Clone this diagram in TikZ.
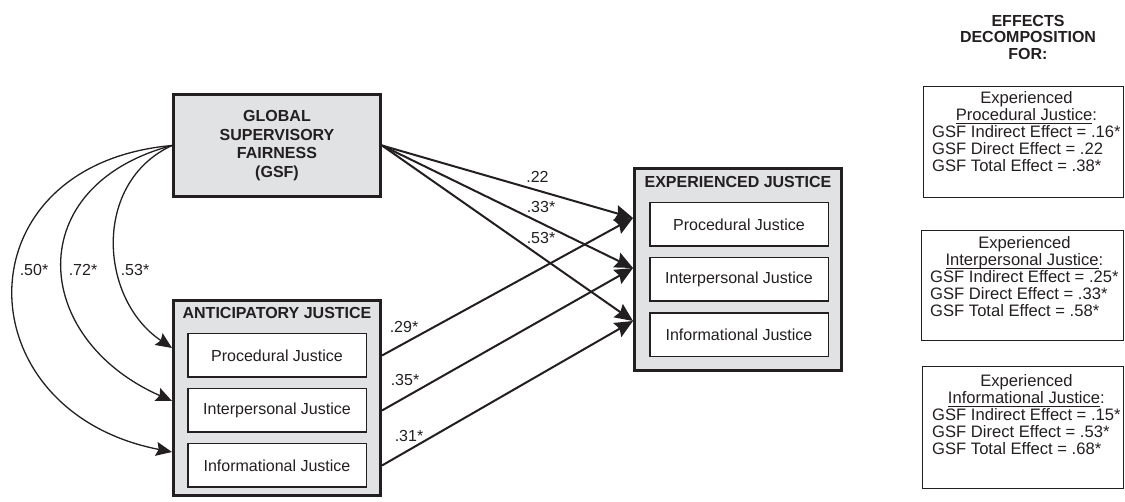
\documentclass[tikz,border=0pt]{standalone}
\usepackage{fontspec}
\setmainfont{Liberation Sans}
\usetikzlibrary{arrows.meta}
\definecolor{boxgray}{RGB}{225,226,228}
\definecolor{ink}{RGB}{35,31,32}
\newsavebox{\ulbox}
\newcommand{\myuline}[1]{\sbox{\ulbox}{#1}\rlap{\rule[-2.6pt]{\wd\ulbox}{0.9pt}}\usebox{\ulbox}}
\begin{document}
\begin{tikzpicture}[x=1pt,y=-1pt,
  outerbox/.style={draw=ink, line width=3pt, fill=boxgray, minimum width=207pt, inner sep=0pt},
  innerbox/.style={draw=ink, line width=1.5pt, fill=white, minimum width=178.5pt, minimum height=43.5pt, inner sep=0pt, text=ink, font=\fontsize{16}{18}\selectfont},
  boxtitle/.style={font=\fontsize{16}{18}\selectfont\bfseries, inner sep=0pt, text=ink},
  coef/.style={font=\fontsize{16}{18}\selectfont, inner sep=0pt, text=ink},
  patharrow/.style={draw=ink, line width=2pt, -{Stealth[length=18pt,width=16pt,inset=2.5pt]}},
  corrarrow/.style={draw=ink, line width=1.3pt, -{Stealth[length=16pt,width=14pt,inset=2.5pt]}},
  effbox/.style={draw=ink, line width=1.3pt, inner sep=0pt},
  efftext/.style={font=\fontsize{16.6}{16.4}\selectfont, inner sep=0pt, text=ink},
]
\useasboundingbox (0,0) rectangle (1125,502);

% GSF
\node[outerbox, minimum height=102pt, align=center, font=\fontsize{16}{18.4}\selectfont\bfseries, text=ink] (gsf) at (277,145.5)
  {GLOBAL\\SUPERVISORY\\FAIRNESS\\(GSF)};

% Anticipatory justice
\node[outerbox, minimum height=195pt] (aj) at (277,398) {};
\node[boxtitle] (ajt) at (277,313) {ANTICIPATORY JUSTICE};
\node[innerbox] (ap) at (277,355.5) {Procedural Justice};
\node[innerbox] (ai) at (277,410.5) {Interpersonal Justice};
\node[innerbox] (af) at (277,465.5) {Informational Justice};

% Experienced justice
\node[outerbox, minimum height=202pt] (ej) at (738,269.5) {};
\node[boxtitle] (ejt) at (738,182) {EXPERIENCED JUSTICE};
\node[innerbox] (ep) at (739,224.5) {Procedural Justice};
\node[innerbox] (ei) at (739,279.5) {Interpersonal Justice};
\node[innerbox] (ef) at (739,335) {Informational Justice};

% targets
\coordinate (t1) at (633,218);
\coordinate (t2) at (633,268);
\coordinate (t3) at (633,321);
\coordinate (c1) at (172,348);
\coordinate (c2) at (172,401);
\coordinate (c3) at (172,452);

% GSF direct paths
\draw[patharrow] (gsf.east) -- (t1);
\draw[patharrow] (gsf.east) -- (t2);
\draw[patharrow] (gsf.east) -- (t3);

% anticipatory paths
\draw[patharrow] (aj.east |- ap.center) -- (t1);
\draw[patharrow] (aj.east |- ai.center) -- (t2);
\draw[patharrow] (aj.east |- af.center) -- (t3);

% curved paths
\draw[corrarrow] (gsf.west) .. controls +(-80,37) and +(-73,-49) .. (c1);
\draw[corrarrow] (gsf.west) .. controls +(-151,40) and +(-142,-63) .. (c2);
\draw[corrarrow] (gsf.west) .. controls +(-213,19) and +(-210,-41) .. (c3);

% coefficients
\node[coef] (l50) at (34,270) {.50*};
\node[coef] (l72) at (83,270) {.72*};
\node[coef] (l53a) at (135,270) {.53*};
\node[coef] (l29) at (404,327) {.29*};
\node[coef] (l35) at (405,380) {.35*};
\node[coef] (l31) at (409,436) {.31*};
\node[coef] (l22) at (537.5,177) {.22};
\node[coef] (l33) at (541,207) {.33*};
\node[coef] (l53b) at (541,238) {.53*};

% effects decomposition
\node[font=\fontsize{16}{16.5}\selectfont\bfseries, align=center, inner sep=0pt, text=ink] (effh) at (1028,37)
  {EFFECTS\\DECOMPOSITION\\FOR:};

\node[effbox, minimum width=200pt, minimum height=111pt] (e1) at (1023.5,142) {};
\node[efftext, anchor=base west] (e1t) at (932,104)
  {\begin{tabular}[t]{@{}l@{}}\multicolumn{1}{@{}c@{}}{Experienced}\\
  \multicolumn{1}{@{}c@{}}{\myuline{Procedural Justice}:}\\
  GSF Indirect Effect = .16*\\ GSF Direct Effect = .22\\ GSF Total Effect = .38*\end{tabular}};

\node[effbox, minimum width=202pt, minimum height=110pt] (e2) at (1022.5,285.5) {};
\node[efftext, anchor=base west] (e2t) at (930,249)
  {\begin{tabular}[t]{@{}l@{}}\multicolumn{1}{@{}c@{}}{Experienced}\\
  \multicolumn{1}{@{}c@{}}{\myuline{Interpersonal Justice}:}\\
  GSF Indirect Effect = .25*\\ GSF Direct Effect = .33*\\ GSF Total Effect = .58*\end{tabular}};

\node[effbox, minimum width=201pt, minimum height=122pt] (e3) at (1023,427.5) {};
\node[efftext, anchor=base west] (e3t) at (932,387)
  {\begin{tabular}[t]{@{}l@{}}\multicolumn{1}{@{}c@{}}{Experienced}\\
  \multicolumn{1}{@{}c@{}}{\myuline{Informational Justice}:}\\
  GSF Indirect Effect = .15*\\ GSF Direct Effect = .53*\\ GSF Total Effect = .68*\end{tabular}};
\end{tikzpicture}
\end{document}
